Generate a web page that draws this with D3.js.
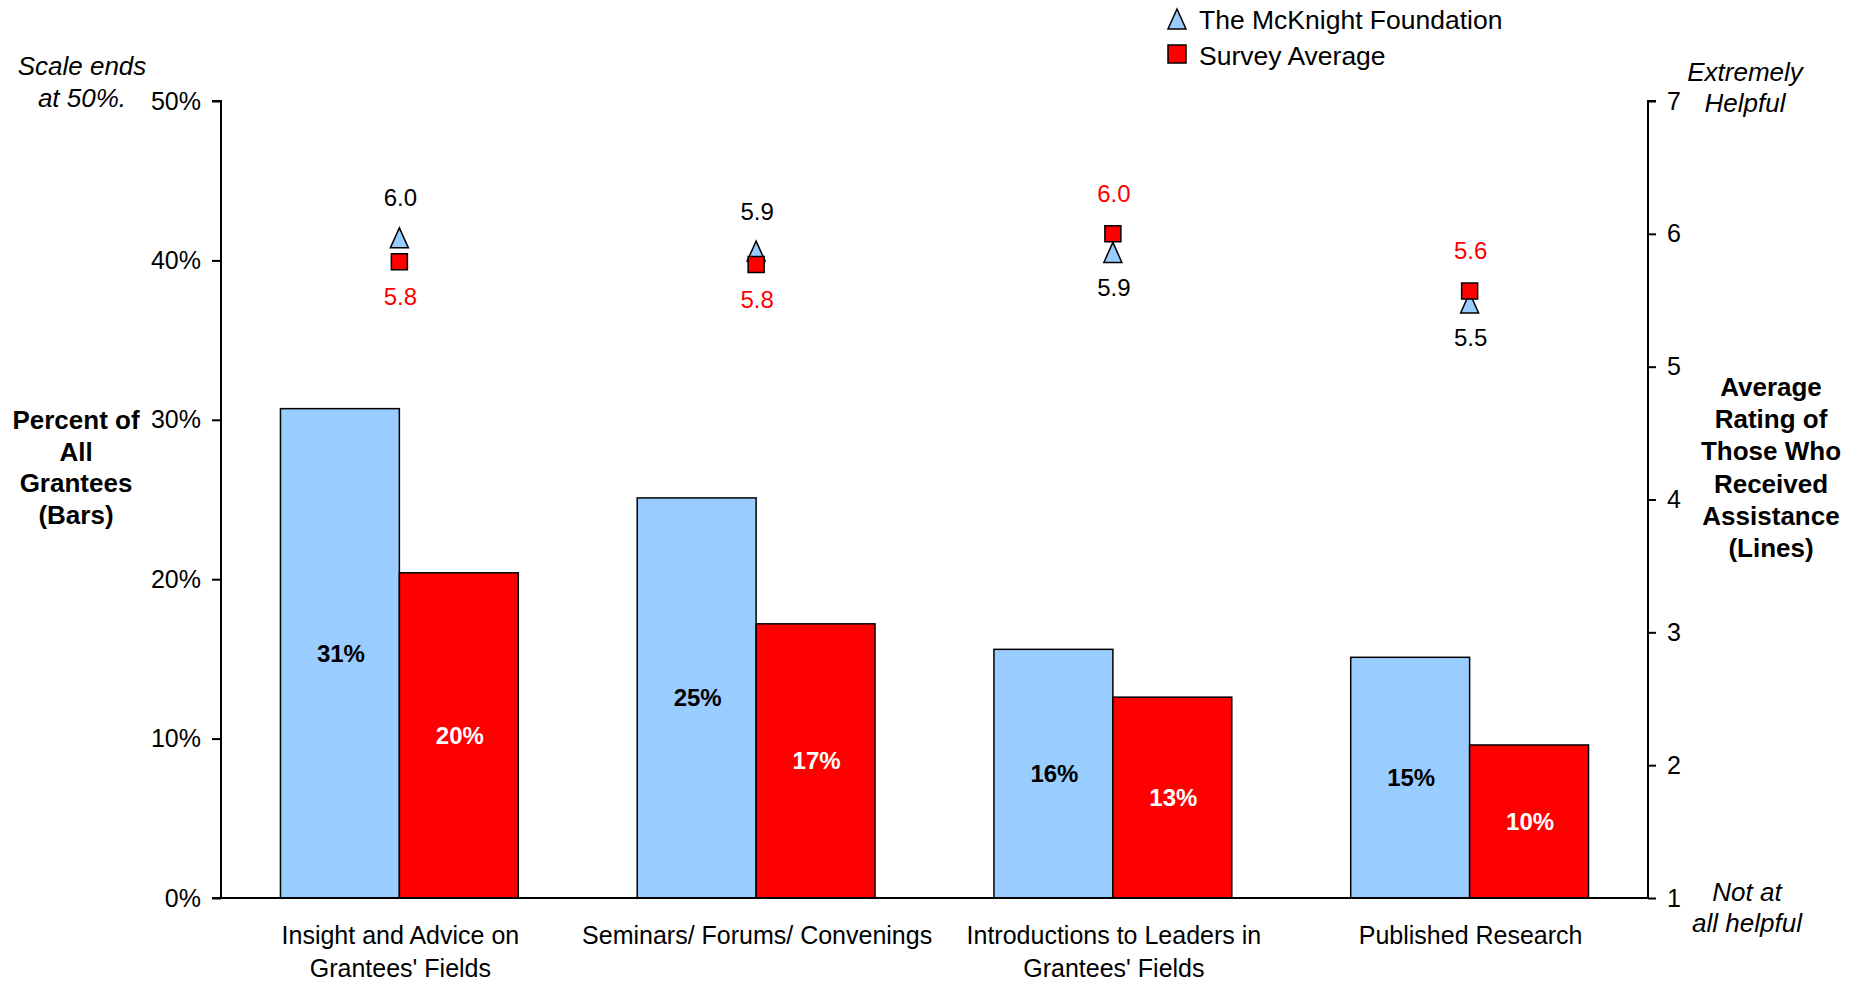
<!DOCTYPE html>
<html>
<head>
<meta charset="utf-8">
<script src="https://cdn.jsdelivr.net/npm/d3@7"></script>
<style>
  html, body { margin: 0; padding: 0; background: #fff; }
  svg { display: block; font-family: "Liberation Sans", Arial, sans-serif; }
</style>
</head>
<body>
<svg id="chart" width="1862" height="982"></svg>
<script>
// Categories of non-monetary assistance
const categories = [
  ["Insight and Advice on", "Grantees' Fields"],
  ["Seminars/ Forums/ Convenings"],
  ["Introductions to Leaders in", "Grantees' Fields"],
  ["Published Research"]
];
const seriesNames = ["The McKnight Foundation", "Survey Average"];

// Share of all grantees receiving each type of assistance (bars)
const mcknightShare = [0.307, 0.251, 0.156, 0.151];
const surveyShare   = [0.204, 0.172, 0.126, 0.096];

// Average helpfulness rating among those who received it (markers)
const mcknightRating = [5.97, 5.87, 5.86, 5.48];
const surveyRating   = [5.79, 5.77, 6.00, 5.57];

// Axis ticks
const pctTicks = [0, 0.1, 0.2, 0.3, 0.4, 0.5];
const ratingTicks = [1, 2, 3, 4, 5, 6, 7];

const colors = { mcknight: "#99CCFF", survey: "#FF0000" };

const svg = d3.select("#chart");
const plotLeft = 221, plotRight = 1648, plotTop = 101, plotBottom = 898;

const x = d3.scaleBand()
  .domain(d3.range(categories.length))
  .range([plotLeft, plotRight])
  .paddingInner(1 / 3)
  .paddingOuter(1 / 6);

const xSub = d3.scaleBand()
  .domain([0, 1])
  .range([0, x.bandwidth()]);

const yPct = d3.scaleLinear().domain([0, 0.5]).range([plotBottom, plotTop]);
const yRating = d3.scaleLinear().domain([1, 7]).range([plotBottom, plotTop]);

const pctFmt = d3.format(".0%");
const ratingFmt = d3.format(".1f");

// Bars
const barData = [];
categories.forEach((c, i) => {
  barData.push({ i, s: 0, v: mcknightShare[i], fill: colors.mcknight, text: "#000" });
  barData.push({ i, s: 1, v: surveyShare[i], fill: colors.survey, text: "#fff" });
});

svg.append("g").selectAll("rect")
  .data(barData)
  .join("rect")
  .attr("x", d => x(d.i) + xSub(d.s))
  .attr("y", d => yPct(d.v))
  .attr("width", xSub.bandwidth())
  .attr("height", d => yPct(0) - yPct(d.v))
  .attr("fill", d => d.fill)
  .attr("stroke", "#000")
  .attr("stroke-width", 1.5);

svg.append("g").selectAll("text")
  .data(barData)
  .join("text")
  .attr("x", d => x(d.i) + xSub(d.s) + xSub.bandwidth() / 2 + 1)
  .attr("y", d => (yPct(d.v) + yPct(0)) / 2)
  .attr("text-anchor", "middle")
  .attr("dominant-baseline", "central")
  .attr("font-size", 24)
  .attr("font-weight", "bold")
  .attr("fill", d => d.text)
  .text(d => pctFmt(d.v));

// Left axis (percent)
const axisL = svg.append("g")
  .attr("transform", `translate(${plotLeft},0)`)
  .call(d3.axisLeft(yPct).tickValues(pctTicks).tickFormat(pctFmt).tickSize(9).tickPadding(11));
axisL.select(".domain").attr("stroke-width", 2).attr("d", `M-9,${plotTop}H0V${plotBottom}`);
axisL.selectAll(".tick line").attr("stroke-width", 2);
axisL.selectAll(".tick text").attr("font-size", 25).attr("font-family", "Liberation Sans, Arial, sans-serif").attr("fill", "#000");

// Right axis (rating)
const axisR = svg.append("g")
  .attr("transform", `translate(${plotRight},0)`)
  .call(d3.axisRight(yRating).tickValues(ratingTicks).tickFormat(d3.format("d")).tickSize(8).tickPadding(11));
axisR.select(".domain").attr("stroke-width", 2).attr("d", `M8,${plotTop}H0V${plotBottom}`);
axisR.selectAll(".tick line").attr("stroke-width", 2);
axisR.selectAll(".tick text").attr("font-size", 25).attr("font-family", "Liberation Sans, Arial, sans-serif").attr("fill", "#000");

// Baseline
svg.append("line")
  .attr("x1", plotLeft - 9).attr("x2", plotRight)
  .attr("y1", yPct(0)).attr("y2", yPct(0))
  .attr("stroke", "#000").attr("stroke-width", 2);

// Category labels
const catG = svg.append("g").selectAll("text")
  .data(categories)
  .join("text")
  .attr("text-anchor", "middle")
  .attr("font-size", 25)
  .attr("fill", "#000");
catG.each(function (lines, i) {
  d3.select(this).selectAll("tspan")
    .data(lines)
    .join("tspan")
    .attr("x", x(i) + x.bandwidth() / 2 + 1)
    .attr("y", (d, k) => 935 + k * 33)
    .attr("dominant-baseline", "central")
    .text(d => d);
});

// Rating markers
const triPath = "M0,-10L9,10L-9,10Z";
const sqPath = "M-8,-8H8V8H-8Z";
const cx = i => x(i) + x.bandwidth() / 2;

svg.append("g").selectAll("path")
  .data(mcknightRating)
  .join("path")
  .attr("d", triPath)
  .attr("transform", (d, i) => `translate(${cx(i)},${yRating(d)})`)
  .attr("fill", colors.mcknight)
  .attr("stroke", "#000")
  .attr("stroke-width", 1.5);

svg.append("g").selectAll("path")
  .data(surveyRating)
  .join("path")
  .attr("d", sqPath)
  .attr("transform", (d, i) => `translate(${cx(i)},${yRating(d)})`)
  .attr("fill", colors.survey)
  .attr("stroke", "#000")
  .attr("stroke-width", 1.5);

// Rating labels: higher value labelled above, lower below
const labelData = [];
categories.forEach((c, i) => {
  const mHigher = mcknightRating[i] >= surveyRating[i];
  labelData.push({ i, v: mcknightRating[i], above: mHigher, fill: "#000" });
  labelData.push({ i, v: surveyRating[i], above: !mHigher, fill: "#FF0000" });
});
svg.append("g").selectAll("text")
  .data(labelData)
  .join("text")
  .attr("x", d => cx(d.i) + 1)
  .attr("y", d => yRating(d.v) + (d.above ? -40 : 35))
  .attr("text-anchor", "middle")
  .attr("dominant-baseline", "central")
  .attr("font-size", 24)
  .attr("fill", d => d.fill)
  .text(d => ratingFmt(d.v));

// Legend
const legend = svg.append("g");
legend.append("path").attr("d", triPath).attr("transform", "translate(1177,19)")
  .attr("fill", colors.mcknight).attr("stroke", "#000").attr("stroke-width", 1.5);
legend.append("path").attr("d", "M-9,-9H9V9H-9Z").attr("transform", "translate(1177,54)")
  .attr("fill", colors.survey).attr("stroke", "#000").attr("stroke-width", 1.5);
legend.selectAll("text")
  .data(seriesNames)
  .join("text")
  .attr("x", 1199)
  .attr("y", (d, k) => 20 + k * 36)
  .attr("dominant-baseline", "central")
  .attr("font-size", 26.5)
  .attr("fill", "#000")
  .text(d => d);

// Axis titles and annotations
function block(lines, xPos, y0, step, opts) {
  const t = svg.append("text")
    .attr("text-anchor", "middle")
    .attr("font-size", opts.size)
    .attr("font-weight", opts.weight || "normal")
    .attr("font-style", opts.style || "normal")
    .attr("fill", "#000");
  t.selectAll("tspan").data(lines).join("tspan")
    .attr("x", xPos)
    .attr("y", (d, k) => y0 + k * step)
    .attr("dominant-baseline", "central")
    .text(d => d);
}
block(["Percent of", "All", "Grantees", "(Bars)"], 76, 420, 31.7, { size: 26, weight: "bold" });
block(["Average", "Rating of", "Those Who", "Received", "Assistance", "(Lines)"], 1771, 387, 32.2, { size: 26, weight: "bold" });
block(["Scale ends", "at 50%."], 82, 66, 32, { size: 26, style: "italic" });
block(["Extremely", "Helpful"], 1745, 72, 31, { size: 26, style: "italic" });
block(["Not at", "all helpful"], 1747, 892, 31, { size: 26, style: "italic" });
</script>
</body>
</html>
